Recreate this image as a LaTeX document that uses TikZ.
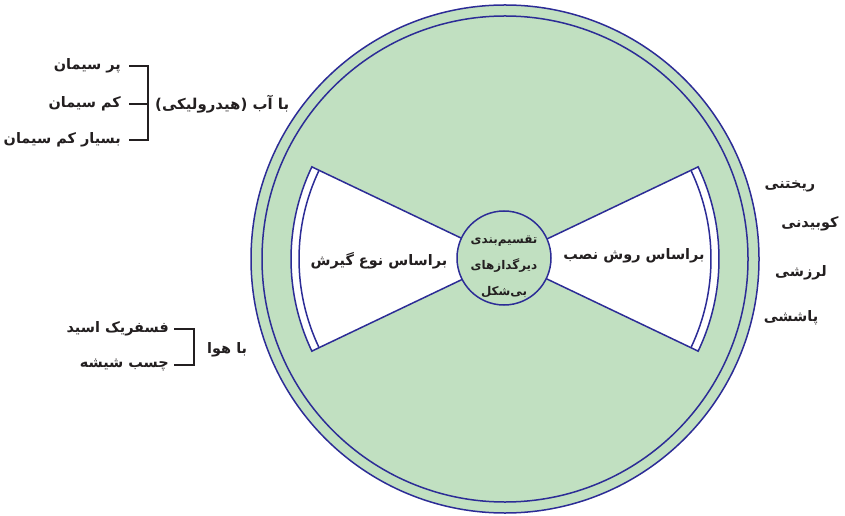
\documentclass[tikz,border=0pt]{standalone}
\usepackage{fontspec}
\newfontfamily\fafont[Script=Arabic]{DejaVu Sans}
\TeXXeTstate=1
\definecolor{ringgreen}{RGB}{193,224,193}
\definecolor{ringblue}{RGB}{44,44,150}
\definecolor{inkgray}{RGB}{35,31,32}
\newcommand{\fa}[1]{\beginR #1\endR}

\begin{document}
\begin{tikzpicture}[x=1bp, y=-1bp,
    every node/.style={text=inkgray, font=\fafont\bfseries\fontsize{14.5}{17}\selectfont, inner sep=1bp},
    rim/.style={draw=ringblue, line width=1.5bp},
    bracket/.style={draw=inkgray, line width=1.4bp}]
    \useasboundingbox (0,0) rectangle (845,516);
    \coordinate (c) at (505,259);

    % Outer ring (two circles)
    \draw[rim, fill=ringgreen] (c) circle (254bp);
    \draw[rim] (c) circle (243bp);

    % White sectors with a thin band along the arc
    \draw[rim, fill=white] (c) -- ++(25.5:214bp) arc[start angle=25.5, end angle=-25.5, radius=214bp] -- cycle;
    \draw[rim] (c) ++(25.5:206bp) arc[start angle=25.5, end angle=-25.5, radius=206bp];
    \draw[rim, fill=white] (c) -- ++(154.5:214bp) arc[start angle=154.5, end angle=205.5, radius=214bp] -- cycle;
    \draw[rim] (c) ++(154.5:206bp) arc[start angle=154.5, end angle=205.5, radius=206bp];

    % Hub
    \node[circle, rim, fill=ringgreen, minimum size=94bp] (hub) at (504,258) {};
    \node[align=center, font=\fafont\bfseries\fontsize{12}{26}\selectfont] (hubtext) at (504,267)
        {\fa{تقسیم‌بندی}\\ \fa{دیرگدازهای}\\ \fa{بی‌شکل}};

    % Sector labels
    \node (setting) at (379,261) {\fa{براساس نوع گیرش}};
    \node (install) at (634,256) {\fa{براساس روش نصب}};

    % Hydraulic group
    \node[anchor=east] (rich) at (122,66) {\fa{پر سیمان}};
    \node[anchor=east] (low) at (122,104) {\fa{کم سیمان}};
    \node[anchor=east] (ultra) at (122,140) {\fa{بسیار کم سیمان}};
    \node[anchor=west, font=\fafont\bfseries\fontsize{15}{17}\selectfont] (water) at (154,104) {\fa{با آب (هیدرولیکی)}};
    \draw[bracket] ([xshift=7bp]rich.east) -| ([xshift=26bp]ultra.east) -- ([xshift=7bp]ultra.east);
    \draw[bracket] ([xshift=7bp]low.east) -- ([xshift=26bp]low.east);

    % Air group
    \node[anchor=east] (phos) at (170,329) {\fa{فسفریک اسید}};
    \node[anchor=east] (glass) at (170,365) {\fa{چسب شیشه}};
    \node[anchor=west] (air) at (206,350) {\fa{با هوا}};
    \draw[bracket] ([xshift=4bp]phos.east) -| ([xshift=24bp]glass.east) -- ([xshift=4bp]glass.east);

    % Installation methods
    \node (cast) at (790,186) {\fa{ریختنی}};
    \node (ram) at (810,224) {\fa{کوبیدنی}};
    \node (vib) at (801,273) {\fa{لرزشی}};
    \node (gun) at (791,318) {\fa{پاششی}};
\end{tikzpicture}
\end{document}
